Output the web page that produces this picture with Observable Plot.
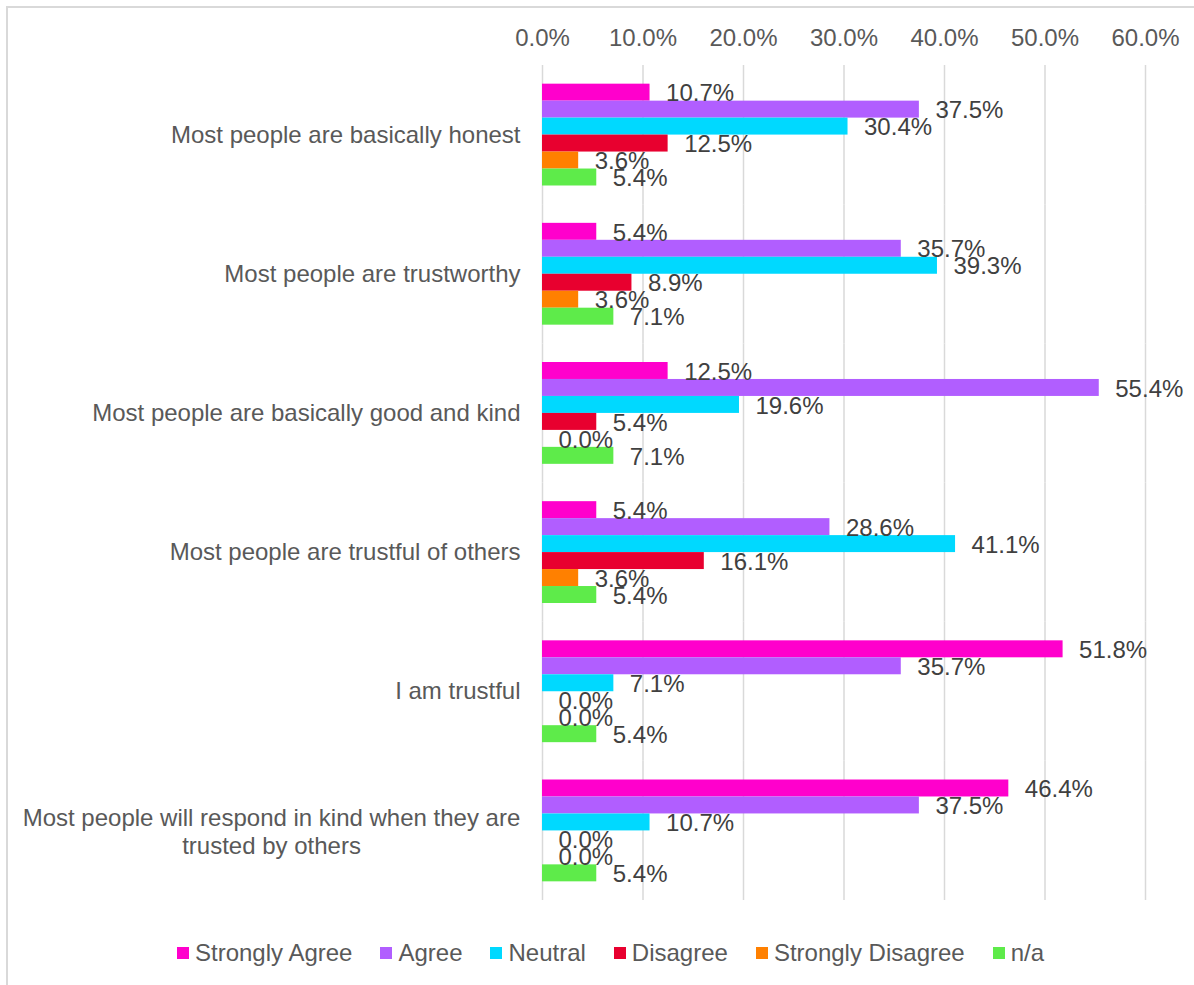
<!DOCTYPE html>
<html>
<head>
<meta charset="utf-8">
<script src="https://cdn.jsdelivr.net/npm/d3@7"></script>
<script src="https://cdn.jsdelivr.net/npm/@observablehq/plot@0.6"></script>
<style>
  html, body { margin: 0; padding: 0; background: #fff; overflow: hidden; }
  body { width: 1194px; height: 985px; position: relative; font-family: "Liberation Sans", Arial, sans-serif; }
  #frame { position: absolute; left: 6px; top: 6px; width: 1400px; height: 1200px; border-left: 2px solid #d9d9d9; border-top: 2px solid #d9d9d9; box-sizing: border-box; }
  #chart { position: absolute; left: 0; top: 0; }
  #legend { position: absolute; left: 0; top: 939px; width: 1194px; display: flex; justify-content: flex-start; padding-left: 177px; box-sizing: border-box; align-items: center; font-size: 24px; color: #595959; }
  .item { display: flex; align-items: center; margin-right: 28px; }
  .sw { width: 12px; height: 12px; margin-right: 6px; }
</style>
</head>
<body>
<div id="frame"></div>
<div id="chart"></div>
<div id="legend"></div>
<script>
const categories = [
  "Most people are basically honest",
  "Most people are trustworthy",
  "Most people are basically good and kind",
  "Most people are trustful of others",
  "I am trustful",
  "Most people will respond in kind when they are trusted by others"
];
const longLabel = "Most people will respond in kind when they are\ntrusted by others";
const series = ["Strongly Agree", "Agree", "Neutral", "Disagree", "Strongly Disagree", "n/a"];
const colors = ["#FF00CC", "#B15EFF", "#00D9FF", "#E8002F", "#FF8000", "#5EEB4A"];

const stronglyAgree    = [10.7, 5.4, 12.5, 5.4, 51.8, 46.4];
const agree            = [37.5, 35.7, 55.4, 28.6, 35.7, 37.5];
const neutral          = [30.4, 39.3, 19.6, 41.1, 7.1, 10.7];
const disagree         = [12.5, 8.9, 5.4, 16.1, 0.0, 0.0];
const stronglyDisagree = [3.6, 3.6, 0.0, 3.6, 0.0, 0.0];
const na               = [5.4, 7.1, 7.1, 5.4, 5.4, 5.4];

const xTicks = [0, 10, 20, 30, 40, 50, 60];

const seriesValues = [stronglyAgree, agree, neutral, disagree, stronglyDisagree, na];
const data = [];
categories.forEach((c, i) => {
  series.forEach((s, j) => {
    data.push({category: c, series: s, value: seriesValues[j][i]});
  });
});

const fmt = d => d.toFixed(1) + "%";

const chart = Plot.plot({
  width: 1194,
  height: 915,
  marginLeft: 542,
  marginRight: 49,
  marginTop: 65,
  marginBottom: 15,
  style: {fontFamily: '"Liberation Sans", Arial, sans-serif', background: "transparent"},
  x: {domain: [0, 60], label: null},
  y: {domain: series, axis: null, paddingInner: 0, paddingOuter: 1.1, round: false},
  fy: {domain: categories, padding: 0, round: false, label: null},
  color: {domain: series, range: colors},
  marks: [
    Plot.gridX(xTicks, {stroke: "#d9d9d9", strokeOpacity: 1, strokeWidth: 1.5}),
    Plot.barX(data, {x: "value", y: "series", fy: "category", fill: "series", insetTop: 0, insetBottom: 0}),
    Plot.text(data, {x: "value", y: "series", fy: "category", text: d => fmt(d.value), textAnchor: "start", dx: 16, dy: 1, fontSize: 24, fill: "#404040"}),
    Plot.axisX({anchor: "top", ticks: xTicks, tickFormat: fmt, tickSize: 0, tickPadding: 20, fontSize: 24, fill: "#595959", label: null}),
    Plot.axisFy({anchor: "left", ticks: categories.slice(0, 5), tickSize: 0, tickPadding: 22, fontSize: 24, fill: "#595959", label: null}),
    Plot.axisFy({anchor: "left", ticks: categories.slice(5), tickFormat: () => longLabel, tickSize: 0, tickPadding: 22, textAnchor: "middle", dx: -249, lineHeight: 1.17, fontSize: 24, fill: "#595959", label: null})
  ]
});
document.getElementById("chart").appendChild(chart);

const legend = document.getElementById("legend");
series.forEach((s, i) => {
  const item = document.createElement("div");
  item.className = "item";
  const sw = document.createElement("div");
  sw.className = "sw";
  sw.style.background = colors[i];
  const t = document.createElement("span");
  t.textContent = s;
  item.appendChild(sw);
  item.appendChild(t);
  legend.appendChild(item);
});
</script>
</body>
</html>
